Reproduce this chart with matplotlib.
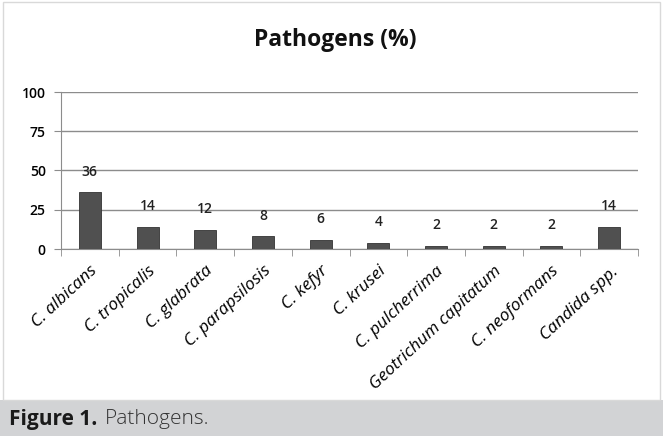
import matplotlib
matplotlib.use("Agg")
import matplotlib.pyplot as plt
from matplotlib.patches import Rectangle
import numpy as np

plt.rcParams['font.family'] = ['Open Sans', 'DejaVu Sans']
plt.rcParams['mathtext.fontset'] = 'custom'
plt.rcParams['mathtext.it'] = 'Open Sans:italic'
plt.rcParams['mathtext.rm'] = 'Open Sans'

categories = ["C. albicans", "C. tropicalis", "C. glabrata", "C. parapsilosis",
              "C. kefyr", "C. krusei", "C. pulcherrima", "Geotrichum capitatum",
              "C. neoformans", r"$\it{Candida}$ spp."]
values = [36, 14, 12, 8, 6, 4, 2, 2, 2, 14]
yticks = [0, 25, 50, 75, 100]

fig = plt.figure(figsize=(6.63, 4.36), dpi=100)
fig.patch.set_facecolor("white")

# caption bar and chart frame
fig.add_artist(Rectangle((0, 0), 1, 36 / 436, transform=fig.transFigure,
                         facecolor="#d2d3d5", edgecolor="none"))
fig.add_artist(Rectangle((0.004, 36 / 436), 0.992, 1 - 36 / 436 - 0.004,
                         transform=fig.transFigure, facecolor="none",
                         edgecolor="#d9d9d9", lw=1))
fig.text(0.013, 17 / 436, "Figure 1.", fontsize=15, fontweight="bold",
         va="center", ha="left", color="#1a1a1a")
fig.text(0.158, 17 / 436, "Pathogens.", fontsize=15, fontweight="light",
         va="center", ha="left", color="#333333")

ax = fig.add_axes([61 / 663, 1 - 249 / 436, (638 - 61) / 663, (249 - 92) / 436])
x = np.arange(len(categories))
bars = ax.bar(x, values, width=0.38, color="#505050", edgecolor="#333333", lw=0.6, zorder=3)
for b, v in zip(bars, values):
    ax.annotate(str(v), (b.get_x() + b.get_width() / 2, v), xytext=(0, 15),
                textcoords="offset points", ha="center", va="center",
                fontsize=10, fontweight="semibold", color="#222222")

ax.set_xlim(-0.5, len(categories) - 0.5)
ax.set_ylim(0, 100)
ax.set_yticks(yticks)
ax.set_yticklabels([str(t) for t in yticks], fontsize=10, fontweight="semibold")
ax.yaxis.grid(True, color="#8c8c8c", lw=1, zorder=0)
ax.set_xticks(x)
ax.set_xticklabels(categories, rotation=43, ha="right", rotation_mode="anchor",
                   fontsize=12.5, fontstyle="italic")
ax.tick_params(axis="x", length=0, pad=10)
ax.set_xticks(np.arange(len(categories) + 1) - 0.5, minor=True)
ax.tick_params(axis="x", which="minor", length=5, color="#8c8c8c")
ax.tick_params(axis="y", length=5, color="#8c8c8c", pad=6)
for s in ["top", "right"]:
    ax.spines[s].set_visible(False)
for s in ["left", "bottom"]:
    ax.spines[s].set_color("#8c8c8c")

fig.text(0.505, 1 - 40 / 436, "Pathogens (%)", ha="center",
         va="center", fontsize=16.5, fontweight="bold", color="#111111")

fig.savefig("out.png", dpi=100)
